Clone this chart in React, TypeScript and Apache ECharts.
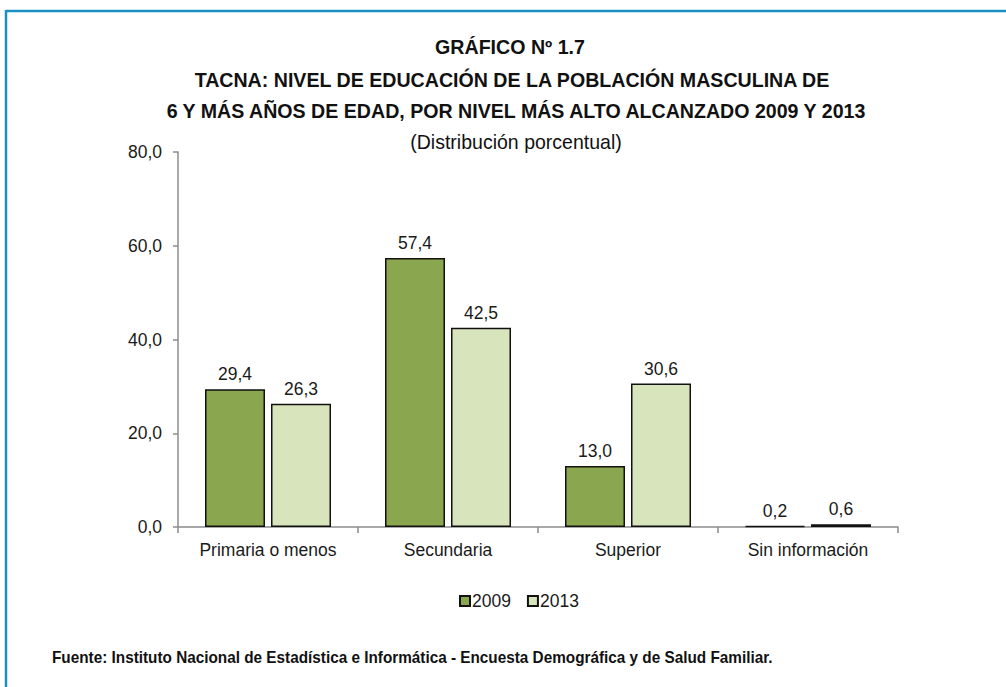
import React, { useEffect, useRef } from "react";
import * as echarts from "echarts";

const categories = ["Primaria o menos", "Secundaria", "Superior", "Sin información"];
const values2009 = [29.4, 57.4, 13.0, 0.2];
const values2013 = [26.3, 42.5, 30.6, 0.6];
const seriesNames = ["2009", "2013"];
const yTicks = { min: 0, max: 80, interval: 20 };

const FONT = "'Liberation Sans', Arial, sans-serif";
const fmt = (v: number) => v.toFixed(1).replace(".", ",");

export default function App() {
  const ref = useRef<HTMLDivElement>(null);
  useEffect(() => {
    if (!ref.current) return;
    const chart = echarts.init(ref.current, undefined, { renderer: "svg" });
    const labelCfg = {
      show: true,
      position: "top" as const,
      distance: 6,
      color: "#1a1a1a",
      fontFamily: FONT,
      fontSize: 17.5,
      formatter: (p: any) => fmt(p.value),
    };
    const titleStyle = { fontFamily: FONT, fontSize: 20, fontWeight: "bold", fill: "#111", align: "center", verticalAlign: "middle" };
    chart.setOption({
      animation: false,
      backgroundColor: "#ffffff",
      textStyle: { fontFamily: FONT },
      graphic: [
        { type: "line", shape: { x1: 6, y1: 11, x2: 1006, y2: 11 }, style: { stroke: "#1a8fc4", lineWidth: 2.5 } },
        { type: "line", shape: { x1: 6, y1: 10, x2: 6, y2: 687 }, style: { stroke: "#1a8fc4", lineWidth: 2.5 } },
        { type: "text", x: 510, y: 47, scaleX: 0.98, style: { ...titleStyle, text: "GRÁFICO Nº 1.7" } },
        { type: "text", x: 512, y: 80, scaleX: 0.98, style: { ...titleStyle, text: "TACNA: NIVEL DE EDUCACIÓN DE LA POBLACIÓN MASCULINA DE" } },
        { type: "text", x: 516, y: 111, scaleX: 0.98, style: { ...titleStyle, text: "6 Y MÁS AÑOS DE EDAD, POR NIVEL MÁS ALTO ALCANZADO 2009 Y 2013" } },
        { type: "text", x: 516, y: 142, scaleX: 0.93, style: { text: "(Distribución porcentual)", fontFamily: FONT, fontSize: 21, fill: "#111", align: "center", verticalAlign: "middle" } },
        { type: "text", x: 52, y: 657, scaleX: 0.97, style: { text: "Fuente: Instituto Nacional de Estadística e Informática - Encuesta Demográfica y de Salud Familiar.", fontFamily: FONT, fontSize: 15.8, fontWeight: "bold", fill: "#111", align: "left", verticalAlign: "middle" } },
      ],
      grid: { left: 178, right: 108, top: 152, bottom: 160, containLabel: false },
      legend: {
        data: seriesNames,
        left: 454,
        top: 587,
        itemWidth: 10,
        itemHeight: 10,
        itemGap: 16,
        icon: "rect",
        textStyle: { fontFamily: FONT, fontSize: 17.5, color: "#1a1a1a", padding: [0, 0, 0, -3] },
      },
      xAxis: {
        type: "category",
        data: categories,
        axisLine: { lineStyle: { color: "#8c8c8c", width: 1.5 } },
        axisTick: { show: true, length: 6, lineStyle: { color: "#8c8c8c", width: 1.5 } },
        axisLabel: { fontFamily: FONT, fontSize: 17.5, color: "#1a1a1a", margin: 14 },
      },
      yAxis: {
        type: "value",
        min: yTicks.min,
        max: yTicks.max,
        interval: yTicks.interval,
        axisLine: { show: true, lineStyle: { color: "#8c8c8c", width: 1.5 } },
        axisTick: { show: true, length: 5, inside: false, lineStyle: { color: "#8c8c8c", width: 1.5 } },
        splitLine: { show: false },
        axisLabel: { fontFamily: FONT, fontSize: 17.5, color: "#1a1a1a", margin: 16, formatter: (v: number) => fmt(v) },
      },
      series: [
        {
          name: seriesNames[0],
          type: "bar",
          data: values2009,
          barCategoryGap: "30%",
          barGap: "10%",
          itemStyle: { color: "#8aa64e", borderColor: "#111", borderWidth: 1.5 },
          label: labelCfg,
        },
        {
          name: seriesNames[1],
          type: "bar",
          data: values2013,
          barCategoryGap: "30%",
          barGap: "10%",
          itemStyle: { color: "#d8e4bc", borderColor: "#111", borderWidth: 1.5 },
          label: labelCfg,
        },
      ],
    });
    return () => chart.dispose();
  }, []);
  return <div ref={ref} style={{ width: 1006, height: 687, position: "absolute", left: 0, top: 0 }} />;
}
